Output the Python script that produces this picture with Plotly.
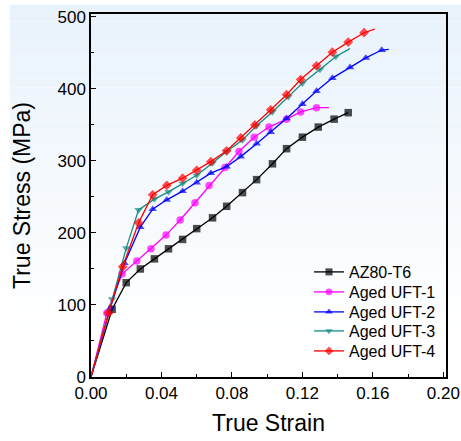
import plotly.graph_objects as go

# ---- data ----
black_x = [0, 0.012, 0.020, 0.028, 0.036, 0.044, 0.052, 0.060, 0.069, 0.077, 0.086, 0.094, 0.103, 0.111, 0.120, 0.129, 0.138, 0.146]
black_y = [0, 94, 131, 150, 164, 178, 191, 206, 221, 237, 256, 274, 296, 317, 333, 347, 358, 367]

uft1_x = [0, 0.009, 0.0176, 0.026, 0.034, 0.0426, 0.0506, 0.059, 0.067, 0.076, 0.084, 0.0926, 0.101, 0.111, 0.119, 0.128, 0.135]
uft1_y = [0, 89, 143, 161, 178, 197, 218, 242, 266, 291, 313, 333, 347, 358, 368, 374, 374]

uft2_x = [0, 0.011, 0.019, 0.028, 0.035, 0.043, 0.052, 0.060, 0.068, 0.077, 0.085, 0.094, 0.102, 0.111, 0.120, 0.128, 0.137, 0.147, 0.156, 0.165, 0.169]
uft2_y = [0, 96, 158, 208, 233, 246, 258, 270, 283, 292, 306, 324, 340, 359, 379, 397, 415, 430, 443, 454, 455]

uft3_x = [0, 0.012, 0.020, 0.027, 0.036, 0.044, 0.052, 0.060, 0.069, 0.077, 0.086, 0.094, 0.103, 0.112, 0.120, 0.130, 0.139, 0.147]
uft3_y = [0, 108, 179, 232, 247, 257, 269, 280, 297, 313, 329, 349, 368, 389, 408, 427, 445, 456]

uft4_x = [0, 0.010, 0.018, 0.027, 0.035, 0.043, 0.052, 0.060, 0.068, 0.077, 0.085, 0.093, 0.102, 0.111, 0.119, 0.128, 0.137, 0.146, 0.155, 0.161]
uft4_y = [0, 89, 153, 214, 253, 266, 276, 287, 299, 314, 332, 350, 371, 392, 413, 432, 451, 465, 478, 483]

names = ["AZ80-T6", "Aged UFT-1", "Aged UFT-2", "Aged UFT-3", "Aged UFT-4"]
xs = [black_x, uft1_x, uft2_x, uft3_x, uft4_x]
ys = [black_y, uft1_y, uft2_y, uft3_y, uft4_y]
colors = ["#000000", "#FF00FF", "#0000FF", "#138A80", "#FF0000"]
symbols = ["square", "circle", "triangle-up", "triangle-down", "diamond"]
last_marked = [True, False, False, False, False]

# ---- layout geometry ----
W, H = 461, 441
L, R, T, B = 91, 446, 14, 377
pw, ph = R - L, B - T
def px2x(p): return (p - L) / pw
def py2y(p): return (B - p) / ph

font = "Liberation Sans, Arial, sans-serif"
legend_rows_px = [272, 292, 312, 331, 351]
legend_keys = ["legend", "legend2", "legend3", "legend4", "legend5"]

fig = go.Figure()
for n, x, y, c, s, lm, lk in zip(names, xs, ys, colors, symbols, last_marked, legend_keys):
    sizes = [0] + [7.5] * (len(x) - 2) + [7.5 if lm else 0]
    fig.add_trace(go.Scatter(
        x=x, y=y, name=n, mode="lines+markers", legend=lk,
        line=dict(color=c, width=1.3),
        marker=dict(symbol=s, size=sizes, color=c, line=dict(width=0)),
    ))

# light blue gradient background
shapes = []
n_strips = 40
top_px, bot_px = 5, 335
c0 = (232, 242, 251)
for i in range(n_strips):
    y0p = top_px + (bot_px - top_px) * i / n_strips
    y1p = top_px + (bot_px - top_px) * (i + 1) / n_strips
    t = (i + 0.5) / n_strips
    col = tuple(int(round(c0[k] + (255 - c0[k]) * t)) for k in range(3))
    shapes.append(dict(type="rect", xref="paper", yref="paper", layer="below",
                       x0=px2x(10), x1=px2x(W), y0=py2y(y1p), y1=py2y(y0p),
                       fillcolor="rgb(%d,%d,%d)" % col, line=dict(width=0)))

legends = {}
for lk, rp in zip(legend_keys, legend_rows_px):
    legends[lk] = dict(x=px2x(309), y=py2y(rp), xanchor="left", yanchor="middle",
                       bgcolor="rgba(0,0,0,0)", font=dict(family=font, size=16, color="black"),
                       itemwidth=30, borderwidth=0)

fig.update_layout(
    width=W, height=H,
    margin=dict(l=L, r=W - R, t=T, b=H - B, autoexpand=False),
    paper_bgcolor="white", plot_bgcolor="rgba(0,0,0,0)",
    shapes=shapes,
    font=dict(family=font, size=17, color="black"),
    showlegend=True,
    **legends,
    xaxis=dict(range=[0, 0.2015], tickvals=[0, 0.04, 0.08, 0.12, 0.16, 0.20],
               ticktext=["0.00", "0.04", "0.08", "0.12", "0.16", "0.20"],
               ticks="inside", ticklen=5, tickwidth=1.2, tickcolor="black",
               minor=dict(dtick=0.02, ticks="inside", ticklen=3, tickcolor="black", tickwidth=1),
               showline=True, linecolor="black", linewidth=1.5, mirror=True,
               showgrid=False, zeroline=False, tickfont=dict(size=17), automargin=False,
               title=dict(text="True Strain", font=dict(size=23), standoff=13)),
    yaxis=dict(range=[0, 504], tickvals=[0, 100, 200, 300, 400, 500],
               ticks="inside", ticklen=5, tickwidth=1.2, tickcolor="black",
               minor=dict(dtick=50, ticks="inside", ticklen=3, tickcolor="black", tickwidth=1),
               showline=True, linecolor="black", linewidth=1.5, mirror=True,
               showgrid=False, zeroline=False, tickfont=dict(size=17), automargin=False,
               title=dict(text="True Stress (MPa)", font=dict(size=23), standoff=20)),
)
fig.write_html("out.html")
